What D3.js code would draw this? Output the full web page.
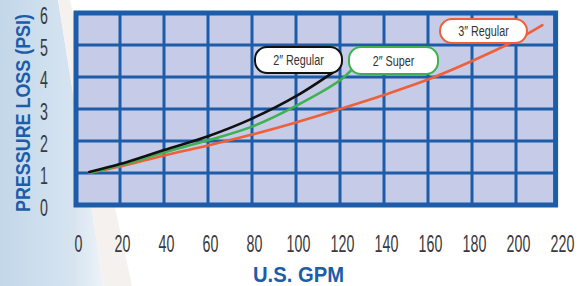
<!DOCTYPE html>
<meta charset="utf-8">
<style>
body { margin: 0; background: #fff; }
.tick text { font-family: "Liberation Sans", Arial, sans-serif; fill: #3a3a3a; }
.grid line { stroke: #1d5ca8; stroke-width: 3px; }
.curve { fill: none; stroke-width: 2.6px; stroke-linecap: round; }
.tag text { font-family: "Liberation Sans", Arial, sans-serif; fill: #333; }
</style>
<svg width="580" height="286"></svg>
<script src="https://d3js.org/d3.v7.min.js"></script>
<script>

// data: [GPM, PSI]
var xTicks = [0, 20, 40, 60, 80, 100, 120, 140, 160, 180, 200, 220];
var yTicks = [0, 1, 2, 3, 4, 5, 6];

var regular2 = [[6,1.03],[20,1.28],[40,1.72],[60,2.15],[80,2.7],[100,3.4],[118,4.2]];
var super2 = [[6,1.0],[20,1.24],[40,1.64],[60,2.02],[80,2.45],[100,3.1],[120,3.9],[126,4.28]];
var regular3 = [[6,1.0],[20,1.2],[40,1.55],[60,1.86],[80,2.2],[100,2.58],[120,3.0],[140,3.44],[160,3.92],[180,4.5],[200,5.15],[212,5.62]];

var series = [
  {name: "2\u2033 Regular", data: regular2, color: "#111111", box: [255, 47, 87, 26]},
  {name: "2\u2033 Super", data: super2, color: "#3fb14e", box: [349, 47, 89, 27]},
  {name: "3\u2033 Regular", data: regular3, color: "#ee6039", box: [440, 19, 87, 24]}
];

var svg = d3.select("svg"),
  width = +svg.attr("width"),
  height = +svg.attr("height");

var x = d3.scaleLinear().domain([0, 218]).range([76, 555.6]);
var y = d3.scaleLinear().domain([0, 6]).range([205, 13]);
// tick labels in the picture sit a little right of the grid lines
var xLab = d3.scaleLinear().domain([0, 220]).range([78, 562]);

// light blue swoosh on the left
var defs = svg.append("defs");
var grad = defs.append("linearGradient").attr("id", "sw")
  .attr("x1", 0).attr("y1", 0).attr("x2", 1).attr("y2", 0);
grad.append("stop").attr("offset", "0%").attr("stop-color", "#c3d7ea");
grad.append("stop").attr("offset", "70%").attr("stop-color", "#d6e4f0");
grad.append("stop").attr("offset", "100%").attr("stop-color", "#eef3f8");

svg.append("path")
  .attr("d", "M0,0 L58,0 L104,286 L0,286 Z")
  .attr("fill", "url(#sw)");
svg.append("path")
  .attr("d", "M58,0 L70,0 L132,286 L104,286 Z")
  .attr("fill", "#f4f1ee");

// plot background
svg.append("rect")
  .attr("x", x(0)).attr("y", y(6))
  .attr("width", x(218) - x(0)).attr("height", y(0) - y(6))
  .attr("fill", "#c6cbe7");

var grid = svg.append("g").attr("class", "grid");
grid.selectAll(".v")
  .data(d3.range(20, 201, 20))
  .enter().append("line")
  .attr("x1", x).attr("x2", x)
  .attr("y1", y(0)).attr("y2", y(6));
grid.selectAll(".h")
  .data([1, 2, 3, 4, 5])
  .enter().append("line")
  .attr("x1", x(0)).attr("x2", x(218))
  .attr("y1", y).attr("y2", y);

svg.append("rect")
  .attr("x", x(0)).attr("y", y(6))
  .attr("width", x(218) - x(0)).attr("height", y(0) - y(6))
  .attr("fill", "none")
  .attr("stroke", "#1d5ca8")
  .attr("stroke-width", 5);

// axes
var xAxis = svg.append("g")
  .attr("transform", "translate(0,252)")
  .call(d3.axisBottom(xLab).tickValues(xTicks).tickSize(0).tickPadding(0));
xAxis.select(".domain").remove();
xAxis.selectAll("text")
  .attr("dy", 0)
  .style("font-size", "23px")
  .attr("transform", "scale(0.62,1)");

var yAxis = svg.append("g")
  .attr("transform", "translate(44,2)")
  .call(d3.axisLeft(y).tickValues(yTicks).tickFormat(d3.format("d")).tickSize(0).tickPadding(0));
yAxis.select(".domain").remove();
yAxis.selectAll("text")
  .attr("x", 0)
  .attr("dy", "0.36em")
  .attr("text-anchor", "middle")
  .style("font-size", "23px")
  .attr("transform", "scale(0.62,1)");

// titles
svg.append("text")
  .attr("transform", "translate(30,113) rotate(-90)")
  .attr("text-anchor", "middle")
  .attr("textLength", 198)
  .attr("lengthAdjust", "spacingAndGlyphs")
  .style("font", "bold 21px 'Liberation Sans', Arial, sans-serif")
  .style("fill", "#1d5ca8")
  .text("PRESSURE LOSS (PSI)");

svg.append("text")
  .attr("x", 253).attr("y", 282)
  .attr("textLength", 91)
  .attr("lengthAdjust", "spacingAndGlyphs")
  .style("font", "bold 22px 'Liberation Sans', Arial, sans-serif")
  .style("fill", "#1d5ca8")
  .text("U.S. GPM");

// curves
var line = d3.line()
  .x(function(d) { return x(d[0]); })
  .y(function(d) { return y(d[1]); })
  .curve(d3.curveCatmullRom.alpha(0.5));

svg.selectAll(".curve")
  .data(series.slice().reverse())
  .enter().append("path")
  .attr("class", "curve")
  .attr("stroke", function(d) { return d.color; })
  .attr("d", function(d) { return line(d.data); });

// labels
var tag = svg.selectAll(".tag")
  .data(series)
  .enter().append("g")
  .attr("class", "tag");

tag.append("rect")
  .attr("x", function(d) { return d.box[0]; })
  .attr("y", function(d) { return d.box[1]; })
  .attr("width", function(d) { return d.box[2]; })
  .attr("height", function(d) { return d.box[3]; })
  .attr("rx", 12)
  .attr("fill", "#fff")
  .attr("stroke", function(d) { return d.color; })
  .attr("stroke-width", 2);

tag.append("text")
  .attr("transform", function(d) {
    return "translate(" + (d.box[0] + d.box[2] / 2) + "," + (d.box[1] + d.box[3] / 2 + 5) + ") scale(0.72,1)";
  })
  .attr("text-anchor", "middle")
  .style("font-size", "15px")
  .text(function(d) { return d.name; });

</script>
